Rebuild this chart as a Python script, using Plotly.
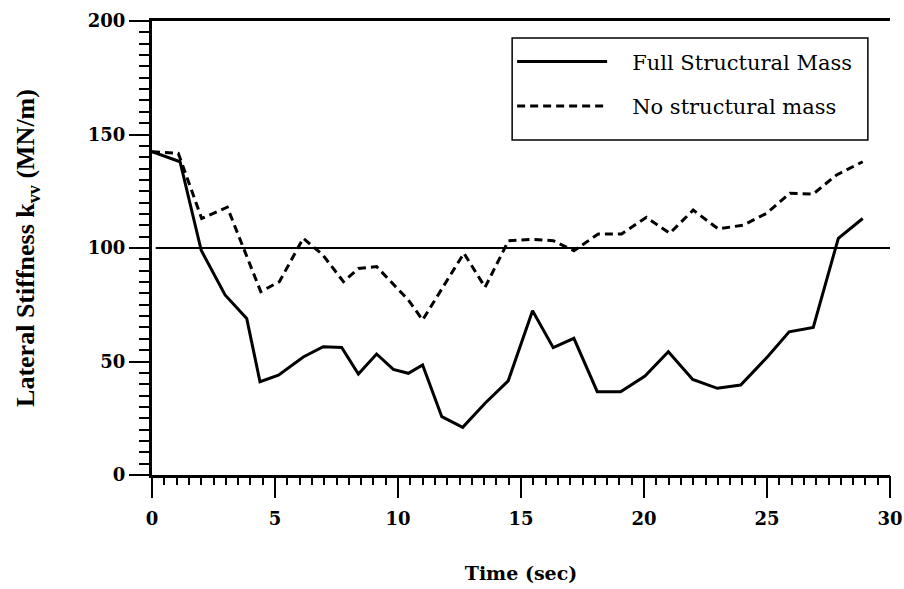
import plotly.graph_objects as go

# Full Structural Mass (solid)
t_full = [0, 1.14, 2.0, 2.97, 3.85, 4.39, 5.14, 6.15, 6.96, 7.71, 8.39, 9.13, 9.81,
          10.42, 11.0, 11.78, 12.63, 13.54, 14.48, 15.47, 16.31, 17.15, 18.1, 19.05,
          20.04, 20.99, 21.98, 22.98, 23.93, 25.05, 25.9, 26.88, 27.9, 28.89]
k_full = [142.4, 138, 99, 79.3, 69, 41.1, 44, 52, 56.5, 56.2, 44.5, 53.3, 46.5,
          44.8, 48.5, 25.7, 21, 31.6, 41.5, 72.4, 56.1, 60.2, 36.7, 36.7,
          43.6, 54.3, 42.1, 38.2, 39.6, 52.4, 63.1, 65, 104.3, 113]

# No structural mass (dashed)
t_none = [0, 1.07, 2.02, 3.06, 4.42, 5.18, 6.15, 6.94, 7.78, 8.39, 9.13, 9.88,
          10.42, 11.0, 12.68, 13.54, 14.49, 15.5, 16.31, 17.15, 18.14, 19.09,
          20.1, 21.05, 22.0, 23.02, 24.04, 24.99, 25.93, 26.88, 27.83, 28.89]
k_none = [142.4, 141.7, 113, 118, 80.8, 85.2, 104.3, 97, 85.2, 91, 91.8, 83,
          77.1, 68.3, 97.7, 82.7, 103.2, 103.8, 103.2, 98.8, 106.2, 106.2,
          113.5, 106.5, 116.7, 108.4, 110.1, 115.3, 124.1, 123.8, 132.2, 138]

names = ["Full Structural Mass", "No structural mass"]
ref_level = 100

x_minor = [i * 0.5 for i in range(61)]
y_minor = [i * 5 for i in range(41)]

pad = "\u00a0\u00a0\u00a0"

fig = go.Figure()
fig.add_trace(go.Scatter(x=t_full, y=k_full, mode="lines", name=pad + names[0],
                         legendgroup="a",
                         line=dict(color="black", width=3)))
fig.add_trace(go.Scatter(x=t_none, y=k_none, mode="lines", name=pad + names[1],
                         legendgroup="b",
                         line=dict(color="black", width=3, dash="8px,5px")))
# carrier for the minor-tick axes
fig.add_trace(go.Scatter(x=[None], y=[None], xaxis="x2", yaxis="y2",
                         showlegend=False, hoverinfo="skip"))

fig.add_shape(type="line", xref="paper", yref="y", x0=0.005, x1=1, y0=ref_level, y1=ref_level,
              line=dict(color="black", width=2))
# legend frame
fig.add_shape(type="rect", xref="paper", yref="paper",
              x0=0.488, x1=0.970, y0=0.738, y1=0.9626,
              line=dict(color="black", width=1.5), fillcolor="rgba(0,0,0,0)", layer="above")

tickfont = dict(family="DejaVu Serif", size=18, color="black", weight="bold")

fig.update_layout(
    width=904, height=589,
    margin=dict(l=152, r=14, t=21, b=114, autoexpand=False),
    paper_bgcolor="white", plot_bgcolor="white",
    showlegend=True,
    legend=dict(x=0.488, y=0.955, xanchor="left", yanchor="top",
                borderwidth=0, bgcolor="rgba(255,255,255,0)",
                font=dict(family="DejaVu Serif", size=21, color="black"),
                itemwidth=90, tracegroupgap=14),
    xaxis=dict(range=[0, 30], tickmode="linear", tick0=0, dtick=5,
               showgrid=False, zeroline=False,
               showline=True, linecolor="black", linewidth=3, mirror=True,
               ticks="outside", ticklen=20, tickwidth=2, tickcolor="black",
               tickfont=tickfont, ticklabelstandoff=5,
               title=dict(text="Time (sec)", standoff=40,
                          font=dict(family="DejaVu Serif", size=19, color="black", weight="bold"))),
    yaxis=dict(range=[0, 200], tickmode="linear", tick0=0, dtick=50,
               showgrid=False, zeroline=False,
               showline=True, linecolor="black", linewidth=3,
               ticks="outside", ticklen=20, tickwidth=2, tickcolor="black",
               tickfont=tickfont,
               title=dict(text="Lateral Stiffness k<sub>vv</sub> (MN/m)", standoff=46,
                          font=dict(family="Liberation Serif", size=26, color="black", weight="bold"))),
    xaxis2=dict(range=[0, 30], overlaying="x", anchor="y2", side="bottom",
                tickmode="array", tickvals=x_minor, showticklabels=False,
                ticks="outside", ticklen=9, tickwidth=2, tickcolor="black",
                showgrid=False, zeroline=False, showline=False),
    yaxis2=dict(range=[0, 200], overlaying="y", anchor="x2", side="left",
                tickmode="array", tickvals=y_minor, showticklabels=False,
                ticks="outside", ticklen=12, tickwidth=2, tickcolor="black",
                showgrid=False, zeroline=False, showline=False),
)

fig.write_html("out.html")
